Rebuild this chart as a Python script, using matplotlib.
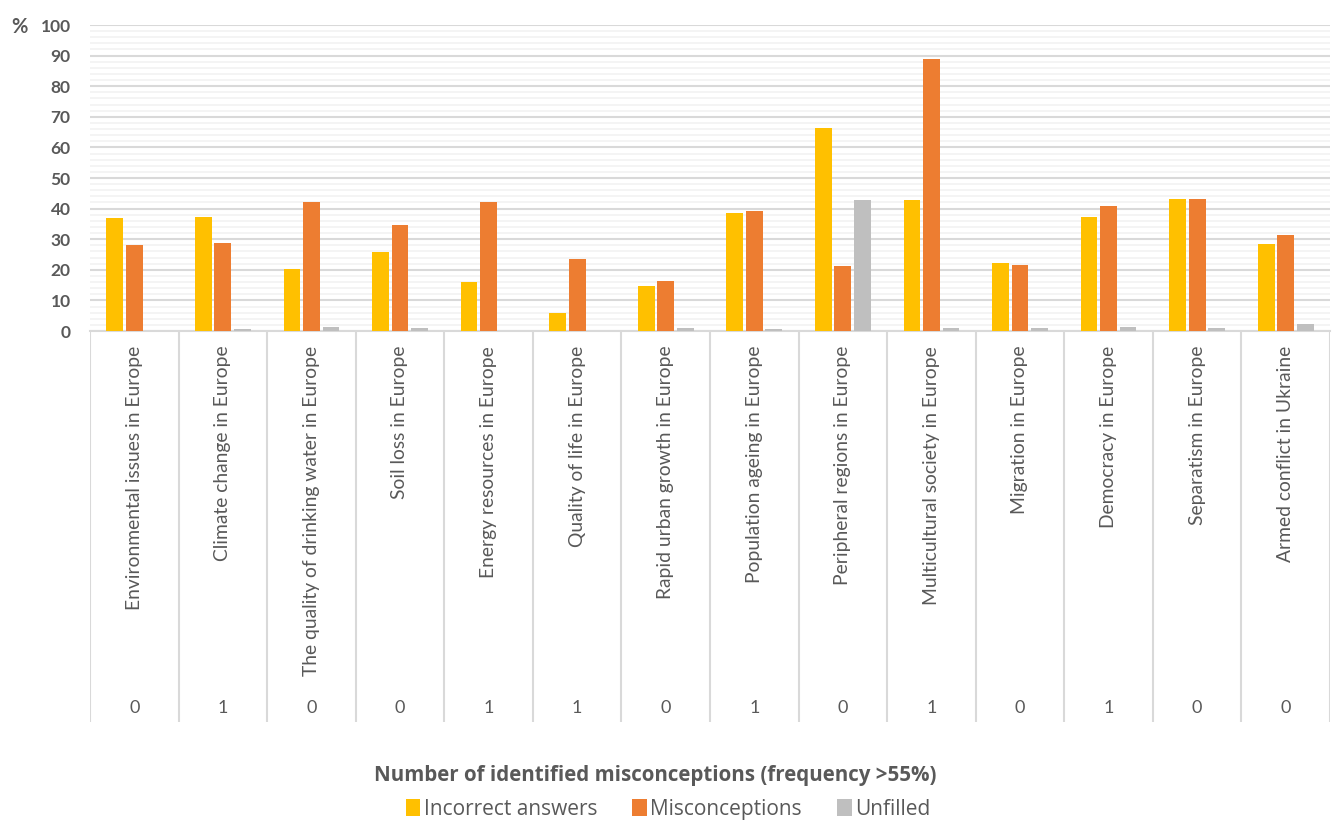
import matplotlib
matplotlib.use("Agg")
import matplotlib.pyplot as plt
from matplotlib.patches import Patch

plt.rcParams['font.family'] = ['Lato', 'DejaVu Sans']

categories = [
    "Environmental issues in Europe", "Climate change in Europe",
    "The quality of drinking water in Europe", "Soil loss in Europe",
    "Energy resources in Europe", "Quality of life in Europe",
    "Rapid urban growth in Europe", "Population ageing in Europe",
    "Peripheral regions in Europe", "Multicultural society in Europe",
    "Migration in Europe", "Democracy in Europe",
    "Separatism in Europe", "Armed conflict in Ukraine",
]
misconception_counts = ["0", "1", "0", "0", "1", "1", "0", "1", "0", "1", "0", "1", "0", "0"]

incorrect = [37.0, 37.1, 20.2, 25.9, 15.9, 5.8, 14.8, 38.6, 66.3, 42.8, 22.1, 37.4, 43.0, 28.5]
misconceptions = [28.2, 28.9, 42.1, 34.7, 42.1, 23.4, 16.4, 39.2, 21.2, 88.9, 21.7, 41.0, 43.2, 31.5]
unfilled = [0.0, 0.5, 1.4, 1.0, 0.0, 0.0, 1.0, 0.5, 42.7, 1.0, 1.0, 1.4, 1.0, 2.2]

series_names = ["Incorrect answers", "Misconceptions", "Unfilled"]
colors = ["#FFC000", "#ED7D31", "#BFBFBF"]
text_color = "#595959"

W, H = 1335, 821
fig = plt.figure(figsize=(W / 100, H / 100), dpi=100)

left, right = 90 / W, 1330 / W
y_top, y_axis, y_bottom = 25, 331, 722
ax = fig.add_axes([left, 1 - y_axis / H, right - left, (y_axis - y_top) / H])

n = len(categories)
xs = list(range(n))
bw = 0.19
offsets = [-0.22, 0.0, 0.22]
for vals, off, c, name in zip([incorrect, misconceptions, unfilled], offsets, colors, series_names):
    ax.bar([x + off for x in xs], vals, width=bw, color=c, label=name, zorder=3)

ax.set_xlim(-0.5, n - 0.5)
ax.set_ylim(0, 100)
ax.set_yticks(range(0, 101, 10))
ax.set_yticks(range(0, 101, 2), minor=True)
ax.grid(axis='y', which='major', color='#D9D9D9', linewidth=1.5, zorder=0)
ax.grid(axis='y', which='minor', color='#F2F2F2', linewidth=1.2, zorder=0)
ax.set_xticks([])
for s in ['top', 'right', 'left']:
    ax.spines[s].set_visible(False)
ax.spines['bottom'].set_color('#D9D9D9')
ax.spines['bottom'].set_linewidth(1.5)
ax.tick_params(axis='y', which='both', length=0, pad=14)
for lbl in ax.get_yticklabels():
    lbl.set_fontweight('bold')
    lbl.set_color(text_color)
    lbl.set_fontsize(12.5)
fig.text(28 / W, 1 - 27 / H, "%", ha='right', va='center',
         fontsize=14.5, fontweight='bold', color=text_color)

# lower category region
ax2 = fig.add_axes([left, 1 - y_bottom / H, right - left, (y_bottom - y_axis) / H])
ax2.set_xlim(-0.5, n - 0.5)
ax2.set_ylim(0, 1)
ax2.axis('off')
ax2.vlines([i - 0.5 for i in range(n + 1)], 0, 1, color='#D9D9D9', linewidth=1.5)
for i, (cat, cnt) in enumerate(zip(categories, misconception_counts)):
    ax2.text(i, 0.962, cat, rotation=90, ha='center', va='top', fontsize=13.9,
             color=text_color)
    ax2.text(i, 0.036, cnt, ha='center', va='center', fontsize=13, color=text_color)

fig.text(655 / W, 1 - 775 / H, "Number of identified misconceptions (frequency >55%)",
         ha='center', va='center', fontsize=14.8, fontweight='bold', color=text_color,
         family=['Open Sans', 'DejaVu Sans'])

handles = [Patch(facecolor=c, label=nm) for c, nm in zip(colors, series_names)]
fig.legend(handles=handles, loc='center', bbox_to_anchor=(668 / W, 1 - 809 / H), ncol=3,
           frameon=False, handlelength=0.7, handleheight=0.85,
           handletextpad=0.15, columnspacing=1.7, labelcolor=text_color,
           prop={'family': ['Open Sans', 'DejaVu Sans'], 'size': 15})

fig.savefig("out.png", dpi=100)
